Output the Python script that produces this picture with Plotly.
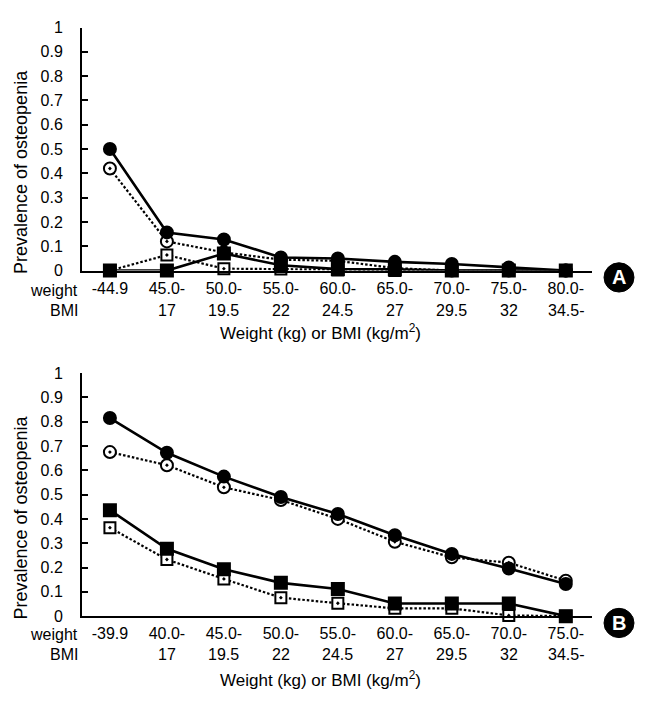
import plotly.graph_objects as go

# ---------------- data ----------------
weight_A = ["-44.9", "45.0-", "50.0-", "55.0-", "60.0-", "65.0-", "70.0-", "75.0-", "80.0-"]
bmi_A = ["-14.5", "17", "19.5", "22", "24.5", "27", "29.5", "32", "34.5-"]
weight_B = ["-39.9", "40.0-", "45.0-", "50.0-", "55.0-", "60.0-", "65.0-", "70.0-", "75.0-"]
bmi_B = ["-14.5", "17", "19.5", "22", "24.5", "27", "29.5", "32", "34.5-"]

# Panel A
A_circle_weight = [0.50, 0.157, 0.128, 0.054, 0.050, 0.036, 0.027, 0.013, 0.0]
A_circle_bmi = [0.42, 0.12, 0.075, 0.045, 0.040, 0.010, 0.0, 0.0, 0.0]
A_square_weight = [0.0, 0.0, 0.070, 0.022, 0.006, 0.005, 0.0, 0.0, 0.0]
A_square_bmi = [0.0, 0.064, 0.008, 0.006, 0.002, 0.0, 0.0, 0.0, 0.0]

# Panel B
B_circle_weight = [0.815, 0.672, 0.574, 0.490, 0.420, 0.333, 0.256, 0.196, 0.132]
B_circle_bmi = [0.675, 0.621, 0.530, 0.478, 0.400, 0.306, 0.242, 0.220, 0.146]
B_square_weight = [0.436, 0.277, 0.193, 0.137, 0.112, 0.052, 0.052, 0.052, 0.0]
B_square_bmi = [0.364, 0.233, 0.153, 0.076, 0.053, 0.032, 0.032, 0.003, 0.0]

y_ticks = [round(0.1 * i, 1) for i in range(11)]

FONT = "Liberation Sans, Arial, sans-serif"
W, H = 647, 713

fig = go.Figure()


def add_series(x, y, xa, ya, name, symbol, dash, lw, msize):
    filled = symbol in ("circle", "square")
    fig.add_trace(go.Scatter(
        x=x, y=y, xaxis=xa, yaxis=ya, name=name, mode="lines+markers",
        line=dict(color="black", width=lw, dash=dash),
        marker=dict(symbol=symbol, size=msize, color="black" if filled else "white",
                    line=dict(color="black", width=2)),
        cliponaxis=False, showlegend=False,
    ))


DOT = "2.5px,2px"
# order: dotted first, solid on top
add_series(weight_A, A_square_bmi, "x", "y", "Square, BMI", "square-dot", DOT, 2.2, 11)
add_series(weight_A, A_circle_bmi, "x", "y", "Circle, BMI", "circle-dot", DOT, 2.2, 12)
add_series(weight_A, A_square_weight, "x", "y", "Square, weight", "square", "solid", 2.6, 12)
add_series(weight_A, A_circle_weight, "x", "y", "Circle, weight", "circle", "solid", 2.6, 12)

add_series(weight_B, B_square_bmi, "x2", "y2", "Square, BMI", "square-dot", DOT, 2.2, 11)
add_series(weight_B, B_circle_bmi, "x2", "y2", "Circle, BMI", "circle-dot", DOT, 2.2, 12)
add_series(weight_B, B_square_weight, "x2", "y2", "Square, weight", "square", "solid", 2.6, 12)
add_series(weight_B, B_circle_weight, "x2", "y2", "Circle, weight", "circle", "solid", 2.6, 12)

xdom = [82 / W, 592 / W]
ydomA = [(H - 269) / H, (H - 20) / H]
ydomB = [(H - 623) / H, (H - 374) / H]

TICKSIZE = 16
xcommon = dict(type="category", range=[-0.49, 8.46], showline=True, linecolor="black",
               linewidth=2, ticks="", showgrid=False, zeroline=False,
               tickfont=dict(family=FONT, size=TICKSIZE, color="black"), ticklabelstandoff=2)
ycommon = dict(range=[0, 1], tickmode="array", tickvals=y_ticks, showline=True,
               linecolor="black", linewidth=2, ticks="inside", ticklen=6, tickwidth=2,
               tickcolor="black", showgrid=False, zeroline=False,
               tickfont=dict(family=FONT, size=TICKSIZE, color="black"), ticklabelstandoff=14)

fig.update_layout(
    width=W, height=H, autosize=False,
    margin=dict(l=0, r=0, t=0, b=0),
    paper_bgcolor="white", plot_bgcolor="white",
    font=dict(family=FONT, size=TICKSIZE, color="black"),
    xaxis=dict(domain=xdom, anchor="y", **xcommon),
    yaxis=dict(domain=ydomA, anchor="x", **ycommon),
    xaxis2=dict(domain=xdom, anchor="y2", **xcommon),
    yaxis2=dict(domain=ydomB, anchor="x2", **ycommon),
)

ann = []
txt_font = dict(family=FONT, size=TICKSIZE, color="black")
for xa, labels, wy, by, xt_y, yt_y in [
    ("x", bmi_A, 289, 310, 332, 168),
    ("x2", bmi_B, 642, 662, 687, 522),
]:
    cats = weight_A if xa == "x" else weight_B
    for c, b in zip(cats, labels):
        ann.append(dict(x=c, y=(H - by) / H, xref=xa, yref="paper", text=b,
                        showarrow=False, xanchor="center", yanchor="middle", font=txt_font))
    ann.append(dict(x=80 / W, y=(H - wy) / H, xref="paper", yref="paper", text="weight",
                    showarrow=False, xanchor="right", yanchor="middle", font=txt_font))
    ann.append(dict(x=80 / W, y=(H - by) / H, xref="paper", yref="paper", text="BMI",
                    showarrow=False, xanchor="right", yanchor="middle", font=txt_font))
    ann.append(dict(x=320 / W, y=(H - xt_y) / H, xref="paper", yref="paper",
                    text="Weight (kg) or BMI (kg/m<sup>2</sup>)", showarrow=False,
                    xanchor="center", yanchor="middle", font=dict(family=FONT, size=17, color="black")))
    ann.append(dict(x=21 / W, y=(H - yt_y) / H, xref="paper", yref="paper",
                    text="Prevalence of osteopenia", textangle=-90, showarrow=False,
                    xanchor="center", yanchor="middle", font=dict(family=FONT, size=18, color="black")))

shapes = []
for letter, cy in [("A", 276), ("B", 630)]:
    cx, r = 619, 15
    shapes.append(dict(type="circle", xref="paper", yref="paper",
                       x0=(cx - r) / W, x1=(cx + r) / W,
                       y0=(H - cy - r) / H, y1=(H - cy + r) / H,
                       fillcolor="black", line=dict(color="black", width=1)))
    ann.append(dict(x=cx / W, y=(H - cy) / H, xref="paper", yref="paper", text="<b>%s</b>" % letter,
                    showarrow=False, xanchor="center", yanchor="middle",
                    font=dict(family=FONT, size=20, color="white")))

fig.update_layout(annotations=ann, shapes=shapes)
fig.write_html("out.html", config={"displayModeBar": False},
               post_script="document.body.style.margin='0';document.body.style.overflow='hidden';")
